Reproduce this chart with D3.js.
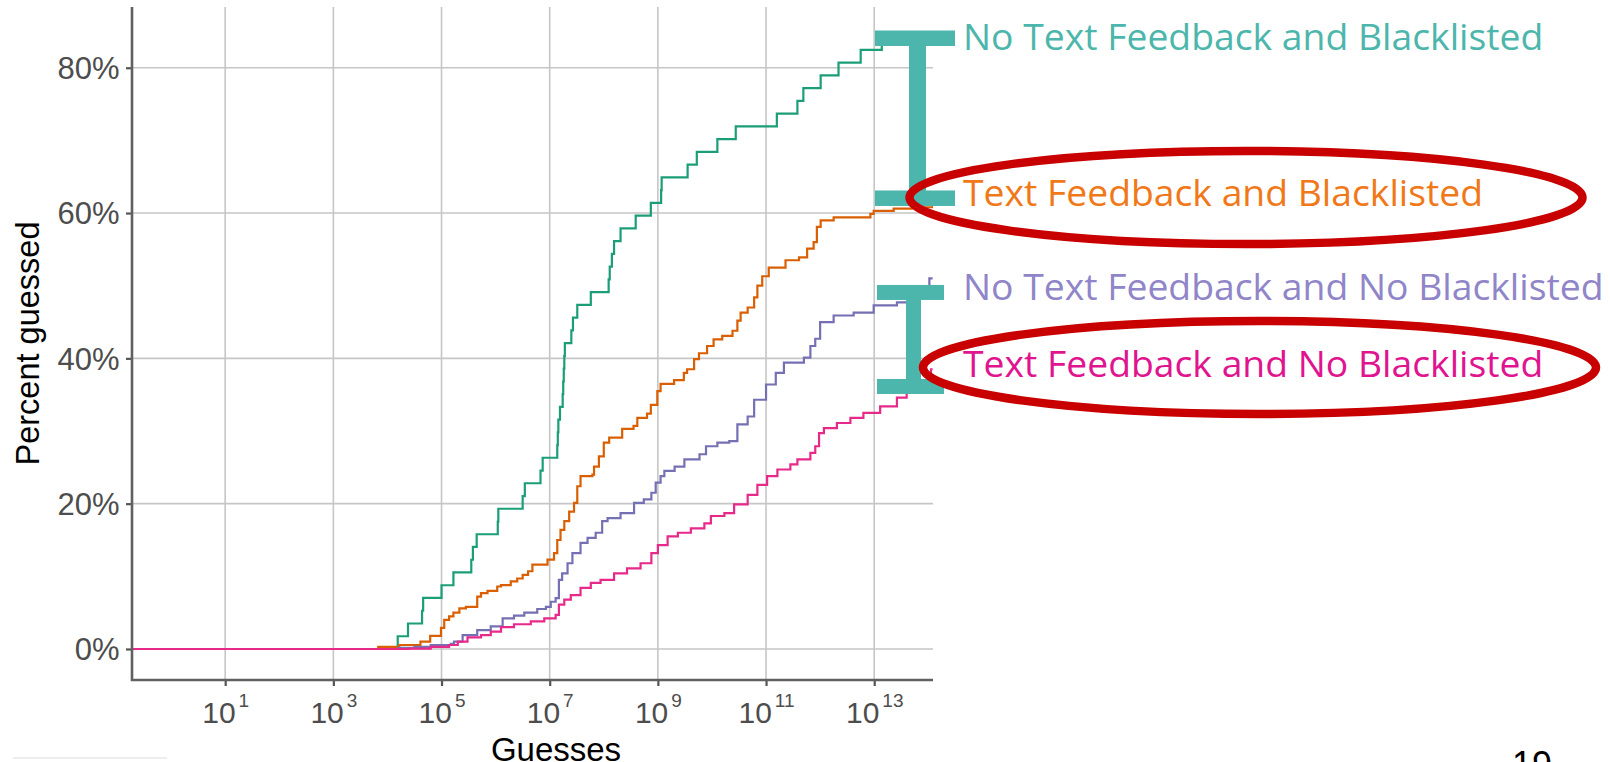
<!DOCTYPE html>
<html>
<head>
<meta charset="utf-8">
<script src="https://cdn.jsdelivr.net/npm/d3@7"></script>
<style>
  body { margin: 0; background: #fff; }
  svg { display: block; }
</style>
</head>
<body>
<div class="chart"></div>
<script>
// tick values
const xTicks = [1e1, 1e3, 1e5, 1e7, 1e9, 1e11, 1e13];
const yTicks = [0, 20, 40, 60, 80];

const seriesNames = [
    "No Text Feedback and Blacklisted",
    "Text Feedback and Blacklisted",
    "No Text Feedback and No Blacklisted",
    "Text Feedback and No Blacklisted"
];
const lineColors = ["#1b9e77", "#d95f02", "#7570b3", "#e7298a"];
const labelColors = ["#4db6ac", "#f07818", "#8f85c8", "#e0148f"];

// [log10(guesses), percent guessed]
const noTextBlacklisted = [[-0.72,0],[4.19,1.75],[4.38,3.51],[4.64,5.26],[4.66,7.02],[5.0,8.77],[5.22,10.53],
    [5.55,12.28],[5.58,14.04],[5.65,15.79],[6.04,17.54],[6.05,19.30],[6.50,21.05],[6.54,22.81],[6.83,24.56],
    [6.87,26.32],[7.14,28.07],[7.15,29.82],[7.16,31.58],[7.19,33.33],[7.24,35.09],[7.25,36.84],[7.26,38.60],
    [7.27,40.35],[7.28,42.11],[7.40,43.86],[7.43,45.61],[7.51,47.37],[7.76,49.12],[8.09,50.88],[8.11,52.63],
    [8.15,54.39],[8.19,56.14],[8.31,57.89],[8.59,59.65],[8.87,61.40],[9.06,63.16],[9.07,64.91],[9.55,66.67],
    [9.72,68.42],[10.10,70.18],[10.44,71.93],[11.20,73.68],[11.58,75.44],[11.69,77.19],[12.01,78.95],
    [12.34,80.70],[12.75,82.46],[13.14,84.21],[14.08,84.21]];

const textBlacklisted = [[-0.72,0],[3.83,0.3],[4.22,0.55],[4.61,1.0],[4.79,1.8],[4.99,2.9],[5.05,4.0],[5.14,4.5],
    [5.22,5.0],[5.33,5.6],[5.45,5.8],[5.66,7.2],[5.73,7.7],[5.85,8.0],[6.03,8.6],[6.10,8.8],[6.28,9.3],[6.40,9.7],
    [6.50,10.2],[6.60,10.7],[6.68,11.6],[6.96,12.3],[7.08,13.2],[7.14,15.0],[7.20,16.4],[7.27,17.6],[7.36,18.9],
    [7.45,20.1],[7.51,22.4],[7.57,23.8],[7.79,24.0],[7.82,25.1],[7.91,26.5],[8.00,28.4],[8.10,29.1],[8.34,30.3],
    [8.55,30.7],[8.62,31.8],[8.80,32.4],[8.87,33.6],[8.99,35.5],[9.05,36.5],[9.30,37.0],[9.48,38.0],[9.54,38.5],
    [9.67,39.9],[9.76,40.7],[9.91,41.7],[10.03,42.6],[10.19,43.1],[10.38,43.8],[10.47,45.2],[10.53,46.3],
    [10.66,47.0],[10.78,48.4],[10.84,50.0],[10.93,51.3],[11.05,52.5],[11.36,53.5],[11.61,53.9],[11.76,55.1],
    [11.88,56.0],[11.94,58.1],[12.01,59.0],[12.25,59.4],[12.93,59.9],[12.99,60.3],[13.36,60.6],[13.70,60.8],
    [14.08,61.0]];

const noTextNoBlacklisted = [[-0.72,0],[4.2,0.15],[4.5,0.3],[4.8,0.55],[5.17,0.7],[5.23,1.0],[5.39,1.9],[5.66,2.6],
    [5.91,3.1],[6.13,4.2],[6.34,4.6],[6.53,5.0],[6.77,5.5],[6.93,5.8],[7.02,6.5],[7.11,7.0],[7.17,9.5],[7.23,10.4],
    [7.33,11.8],[7.42,13.2],[7.57,14.6],[7.70,15.3],[7.85,16.0],[7.97,17.6],[8.07,18.0],[8.31,18.7],[8.56,20.1],
    [8.74,20.6],[8.88,21.5],[8.96,22.9],[9.05,23.8],[9.12,24.5],[9.31,25.1],[9.49,26.1],[9.77,26.8],[9.89,27.9],
    [10.10,28.4],[10.32,28.6],[10.47,30.9],[10.66,32.0],[10.78,34.3],[11.0,36.4],[11.18,38.0],[11.33,39.4],
    [11.70,40.1],[11.82,41.7],[11.91,42.7],[12.0,45.0],[12.25,45.9],[12.62,46.3],[12.99,47.3],[13.42,47.7],
    [13.80,48.5],[13.95,49.5],[14.02,51.0],[14.08,51.0]];

const textNoBlacklisted = [[-0.72,0],[4.4,0.05],[4.80,0.3],[5.14,0.55],[5.30,1.0],[5.48,1.6],[5.73,1.9],[5.91,2.4],
    [6.10,3.0],[6.34,3.4],[6.65,3.8],[6.90,4.2],[7.11,4.7],[7.17,6.1],[7.27,6.8],[7.39,7.4],[7.57,8.4],[7.76,9.1],
    [7.94,9.5],[8.19,10.4],[8.43,11.1],[8.68,11.8],[8.88,13.2],[9.0,14.3],[9.18,15.5],[9.37,16.0],[9.61,16.6],
    [9.86,17.3],[9.98,18.3],[10.23,18.7],[10.41,19.9],[10.66,21.2],[10.84,22.6],[11.02,23.8],[11.21,24.7],
    [11.45,25.4],[11.58,26.1],[11.82,27.0],[11.91,27.9],[11.98,29.7],[12.07,30.4],[12.31,31.1],[12.56,31.8],
    [12.80,32.5],[13.11,33.4],[13.42,34.6],[13.60,35.7],[13.85,37.0],[14.05,38.5],[14.08,38.5]];

// gap brackets: [top %, bottom %]
const gapBrackets = [[84.06, 62.04], [49.07, 36.13]];

function init(){
    createChart(".chart");
}

function createChart(id){
    const W = 1610, H = 762;
    const left = 132, right = 933, top = 7, bottom = 680;
    const axisFont = "'Liberation Sans', Arial, sans-serif";

    const svg = d3.select(id)
        .append("svg")
        .attr("width", W)
        .attr("height", H);

    svg.append("rect").attr("width", W).attr("height", H).attr("fill", "#fff");

    const x = d3.scaleLog()
        .domain([Math.pow(10, -0.723), Math.pow(10, 14.087)])
        .range([left, right]);
    const y = d3.scaleLinear()
        .domain([-4.27, 88.36])
        .range([bottom, top]);

    // grid
    svg.append("g")
        .selectAll("line")
        .data(xTicks)
        .join("line")
        .attr("x1", d => x(d)).attr("x2", d => x(d))
        .attr("y1", top).attr("y2", bottom)
        .attr("stroke", "#c6c6c6").attr("stroke-width", 1.6);
    svg.append("g")
        .selectAll("line")
        .data(yTicks)
        .join("line")
        .attr("x1", left).attr("x2", right)
        .attr("y1", d => y(d)).attr("y2", d => y(d))
        .attr("stroke", "#c6c6c6").attr("stroke-width", 1.6);

    // lines
    svg.append("clipPath").attr("id", "panel")
        .append("rect").attr("x", left).attr("y", top)
        .attr("width", right - left).attr("height", bottom - top);

    const line = d3.line()
        .x(d => x(Math.pow(10, d[0])))
        .y(d => y(d[1]))
        .curve(d3.curveStepAfter);

    const allSeries = [noTextBlacklisted, textBlacklisted, noTextNoBlacklisted, textNoBlacklisted];
    svg.append("g")
        .attr("clip-path", "url(#panel)")
        .selectAll("path")
        .data(allSeries)
        .join("path")
        .attr("d", line)
        .attr("fill", "none")
        .attr("stroke", (d, i) => lineColors[i])
        .attr("stroke-width", 2.2)
        .attr("stroke-linejoin", "miter");

    // axes
    const yAxis = svg.append("g")
        .attr("transform", `translate(${left},0)`)
        .call(d3.axisLeft(y).tickValues(yTicks).tickSize(6).tickPadding(6.5).tickFormat(d => d + "%"));
    const xAxis = svg.append("g")
        .attr("transform", `translate(0,${bottom})`)
        .call(d3.axisBottom(x).tickValues(xTicks).tickSize(6).tickFormat(""));

    [yAxis, xAxis].forEach(a => {
        a.select(".domain").remove();
        a.selectAll(".tick line").attr("stroke", "#555").attr("stroke-width", 2.2);
    });
    svg.append("line")
        .attr("x1", left).attr("x2", left).attr("y1", top).attr("y2", bottom + 1)
        .attr("stroke", "#606060").attr("stroke-width", 2.6);
    svg.append("line")
        .attr("x1", left - 1).attr("x2", right).attr("y1", bottom).attr("y2", bottom)
        .attr("stroke", "#606060").attr("stroke-width", 2.6);

    yAxis.selectAll(".tick text")
        .attr("font-family", axisFont)
        .attr("font-size", 31)
        .attr("fill", "#4d4d4d")
        .attr("dy", "0.35em");

    xAxis.selectAll(".tick text").each(function(d){
        const t = d3.select(this)
            .attr("font-family", axisFont)
            .attr("fill", "#4d4d4d")
            .attr("y", 43)
            .attr("dy", null)
            .attr("text-anchor", "middle");
        t.append("tspan").attr("font-size", 30).text("10");
        t.append("tspan").attr("font-size", 19).attr("dx", 3).attr("dy", -16)
            .text(Math.round(Math.log10(d)));
    });

    // axis titles
    svg.append("text")
        .attr("transform", `translate(38.5,${(top + bottom) / 2}) rotate(-90)`)
        .attr("text-anchor", "middle")
        .attr("font-family", axisFont)
        .attr("font-size", 32.5)
        .attr("fill", "#000")
        .text("Percent guessed");
    svg.append("text")
        .attr("x", 556).attr("y", 761)
        .attr("text-anchor", "middle")
        .attr("font-family", axisFont)
        .attr("font-size", 33)
        .attr("fill", "#000")
        .text("Guesses");

    // brackets
    const beams = [{x0: 875, x1: 955, s0: 909, s1: 926, h: 15.5}, {x0: 877, x1: 944, s0: 906, s1: 921, h: 15}];
    const bg = svg.append("g").attr("fill", "#4db6ac");
    gapBrackets.forEach((g, i) => {
        const b = beams[i];
        const yt = y(g[0]), yb = y(g[1]);
        bg.append("rect").attr("x", b.x0).attr("y", yt - b.h / 2).attr("width", b.x1 - b.x0).attr("height", b.h);
        bg.append("rect").attr("x", b.x0).attr("y", yb - b.h / 2).attr("width", b.x1 - b.x0).attr("height", b.h);
        bg.append("rect").attr("x", b.s0).attr("y", yt).attr("width", b.s1 - b.s0).attr("height", yb - yt);
    });

    // highlight ellipses
    const rings = [{cx: 1246, cy: 197.5}, {cx: 1259.5, cy: 367.5}];
    svg.append("g")
        .selectAll("ellipse")
        .data(rings)
        .join("ellipse")
        .attr("cx", d => d.cx).attr("cy", d => d.cy)
        .attr("rx", 336.5).attr("ry", 46.5)
        .attr("fill", "none")
        .attr("stroke", "#c80000")
        .attr("stroke-width", 8.5);

    // series labels
    const labelY = [50, 206, 300, 376.5];
    svg.append("g")
        .selectAll("text")
        .data(seriesNames)
        .join("text")
        .attr("x", 963)
        .attr("y", (d, i) => labelY[i])
        .attr("font-family", "'Open Sans', 'Noto Sans', sans-serif")
        .attr("font-size", 37.3)
        .attr("fill", (d, i) => labelColors[i])
        .text(d => d);

    // slide leftovers
    svg.append("text")
        .attr("x", 1512).attr("y", 777)
        .attr("font-family", axisFont)
        .attr("font-size", 36)
        .attr("fill", "#000")
        .text("19");
    svg.append("line")
        .attr("x1", 13).attr("x2", 167).attr("y1", 758).attr("y2", 758)
        .attr("stroke", "#dcdcdc").attr("stroke-width", 1);
}

init();
</script>
</body>
</html>
